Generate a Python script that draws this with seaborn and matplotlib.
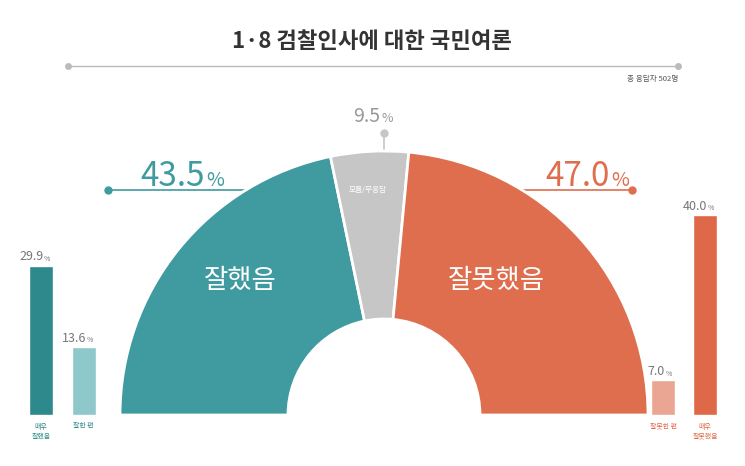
import numpy as np
import pandas as pd
import matplotlib
matplotlib.use("Agg")
import matplotlib.pyplot as plt
from matplotlib.patches import Wedge
import seaborn as sns

# data
groups = ["잘했음", "모름/무응답", "잘못했음"]
group_pct = [43.5, 9.5, 47.0]
left_labels = ["매우\n잘했음", "잘한 편"]
left_pct = [29.9, 13.6]
right_labels = ["잘못한 편", "매우\n잘못했음"]
right_pct = [7.0, 40.0]

teal, gray, orange = "#3f9b9f", "#c6c6c6", "#df6e4f"
sns.set_theme(style="white")
plt.rcParams['font.family'] = ['Noto Sans CJK KR', 'DejaVu Sans']

W, H = 745, 466
fig = plt.figure(figsize=(W / 100, H / 100), dpi=100)
fig.patch.set_facecolor("white")
ax = fig.add_axes([0, 0, 1, 1])
ax.set_xlim(0, W)
ax.set_ylim(H, 0)
ax.axis("off")

# title
ax.text(372, 42, "1·8 검찰인사에 대한 국민여론", ha="center", va="center",
        fontsize=16, fontweight="bold", color="#333333")
ax.plot([68, 678], [66, 66], color="#bbbbbb", lw=1)
ax.plot([68, 678], [66, 66], "o", color="#bbbbbb", ms=4)
ax.text(678, 79, "총 응답자 502명", ha="right", va="center", fontsize=5.5, color="#555555")

# half donut
cx, cy, r_out, r_in = 384, 415, 264, 96
start = 180
colors = [teal, gray, orange]
mids = []
for p, c in zip(group_pct, colors):
    span = 180 * p / sum(group_pct)
    ax.add_patch(Wedge((cx, cy), r_out, start, start + span, width=r_out - r_in,
                       facecolor=c, edgecolor="white", lw=2, zorder=3))
    mids.append(np.radians(start + span / 2))
    start += span

ax.text(240, 280, groups[0], ha="center", va="center", fontsize=19, color="white", zorder=4)
ax.text(496, 280, groups[2], ha="center", va="center", fontsize=19, color="white", zorder=4)
gx = cx + 225 * np.cos(mids[1])
gy = cy + 225 * np.sin(mids[1])
ax.text(gx - 4, gy, groups[1], ha="center", va="center", fontsize=5.5, color="white", zorder=4)

# callouts
ax.plot([108, 260], [190, 190], color=teal, lw=1.2, zorder=1)
ax.plot(108, 190, "o", color=teal, ms=5)
ax.text(205, 176, f"{group_pct[0]}", ha="right", va="center", fontsize=24,
        fontweight="medium", color=teal)
ax.text(206, 180, "%", ha="left", va="center", fontsize=14, color=teal)
ax.plot([500, 632], [190, 190], color=orange, lw=1.2, zorder=1)
ax.plot(632, 190, "o", color=orange, ms=5)
ax.text(610, 176, f"{group_pct[2]}", ha="right", va="center", fontsize=24,
        fontweight="medium", color=orange)
ax.text(611, 180, "%", ha="left", va="center", fontsize=14, color=orange)
ax.plot([384, 384], [133, 160], color=gray, lw=1.2, zorder=1)
ax.plot(384, 133, "o", color=gray, ms=5)
ax.text(380, 116, f"{group_pct[1]}", ha="right", va="center", fontsize=14, color="#999999")
ax.text(381, 118, "%", ha="left", va="center", fontsize=9, color="#999999")


def bars(x0, x1, labels, vals, pal, text_colors):
    # 5 px per percent, baseline at y=415
    top = 415 - 40 * 5
    bax = fig.add_axes([x0 / W, (H - 415) / H, (x1 - x0) / W, (415 - top) / H])
    df = pd.DataFrame({"label": labels, "pct": vals})
    sns.barplot(data=df, x="label", y="pct", hue="label", palette=pal,
                width=0.56, legend=False, ax=bax, saturation=1)
    bax.set_ylim(0, 40)
    bax.axis("off")
    for i, (v, lab) in enumerate(zip(vals, labels)):
        bax.text(i + 0.05, v + 0.4, f"{v}", ha="right", va="bottom", fontsize=9, color="#777777")
        bax.text(i + 0.06, v + 0.5, "%", ha="left", va="bottom", fontsize=5, color="#777777")
        bax.text(i, -1.5, lab, ha="center", va="top", fontsize=5, color=text_colors[i],
                 linespacing=1.3, clip_on=False)


bars(20, 105, left_labels, left_pct, ["#2d898b", "#8ec8ca"], ["#2d898b", "#2d898b"])
bars(642, 726, right_labels, right_pct, ["#eba593", "#df6848"], ["#df6848", "#df6848"])

fig.savefig("out.png", dpi=100, facecolor="white")
